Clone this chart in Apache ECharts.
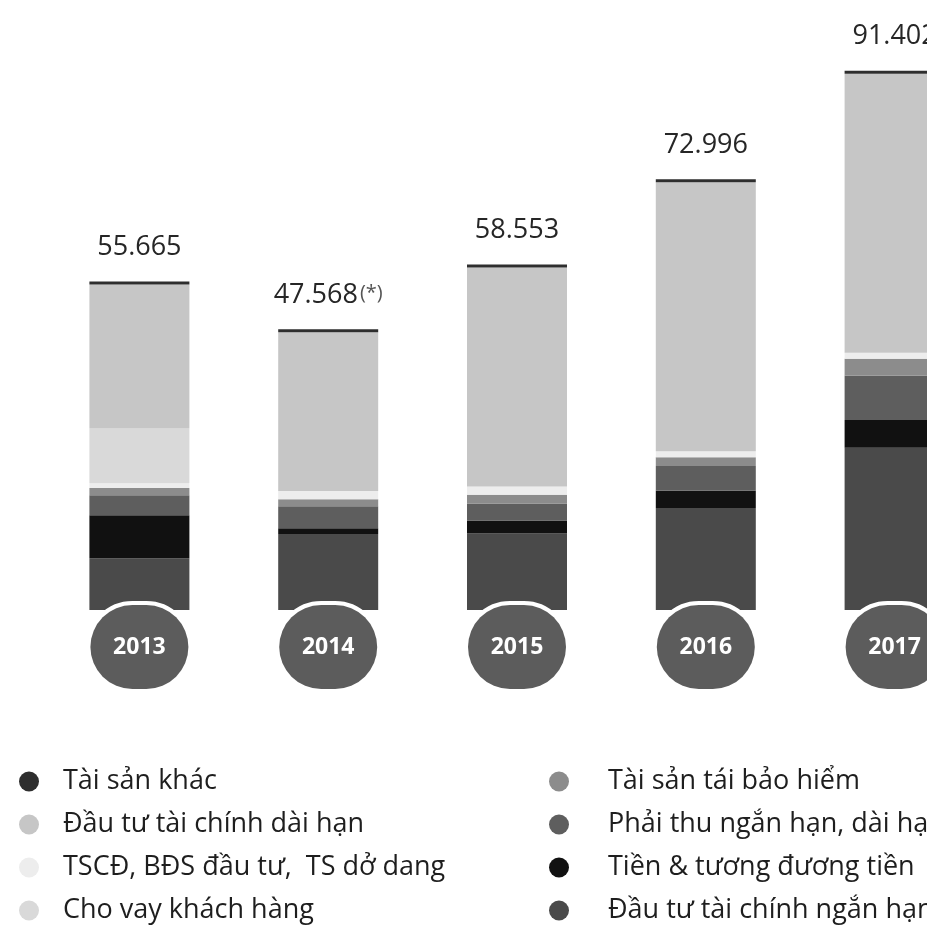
<!DOCTYPE html>
<html>
<head>
<meta charset="utf-8">
<script src="https://cdn.jsdelivr.net/npm/echarts@6/dist/echarts.min.js"></script>
<style>
  html, body { margin: 0; padding: 0; background: #fff; overflow: hidden; }
  #chart { width: 1000px; height: 936px; }
</style>
</head>
<body>
<div id="chart"></div>
<script>
// Tổng tài sản (nghìn tỷ đồng)
const years = ['2013', '2014', '2015', '2016', '2017']
const totals = ['55.665', '47.568', '58.553', '72.996', '91.402']
const totalNotes = ['', '(*)', '', '', '']

// segments, bottom -> top
const dauTuNganHan = [8.765, 12.868, 12.953, 17.296, 27.502]
const tien = [7.3, 1.0, 2.2, 2.9, 4.7]
const phaiThu = [3.4, 3.7, 2.9, 4.2, 7.5]
const taiBaoHiem = [1.2, 1.2, 1.5, 1.5, 2.9]
const tscd = [0.8, 1.4, 1.4, 1.0, 1.0]
const choVay = [9.3, 0, 0, 0, 0]
const dauTuDaiHan = [24.4, 26.9, 37.1, 45.6, 47.3]
const taiSanKhac = [0.5, 0.5, 0.5, 0.5, 0.5]

const FONT = 'Open Sans'

// chart is a bit wider than the window, the 2017 column is cut at the right edge like the scan
const chart = echarts.init(document.getElementById('chart'))

const bar = (name, data, color, extra) => Object.assign({
  name,
  type: 'bar',
  stack: 'total',
  data,
  barWidth: 100,
  itemStyle: { color },
  emphasis: { disabled: true }
}, extra || {})

const legendText = { fontFamily: FONT, fontSize: 27, color: '#1e1e1e', lineHeight: 20 }

const option = {
  animation: false,
  grid: { left: 45, width: 944, top: 20, height: 590 },
  xAxis: {
    type: 'category',
    data: years,
    z: 10,
    axisLine: { show: false },
    axisTick: { show: false },
    axisLabel: {
      interval: 0,
      margin: -5,
      color: '#fff',
      fontFamily: FONT,
      fontWeight: 'bold',
      fontSize: 23,
      backgroundColor: '#5c5c5c',
      borderColor: '#fff',
      borderWidth: 4,
      borderRadius: 42,
      width: 98,
      height: 84,
      lineHeight: 84,
      align: 'center'
    }
  },
  yAxis: {
    type: 'value',
    min: 0,
    max: 100,
    show: false,
    splitLine: { show: false }
  },
  legend: [
    {
      left: 14, top: 763, height: 170, orient: 'vertical',
      icon: 'circle', itemWidth: 20, itemHeight: 20, itemGap: 16,
      textStyle: Object.assign({ padding: [0, 0, 0, 19] }, legendText),
      data: ['Tài sản khác', 'Đầu tư tài chính dài hạn', 'TSCĐ, BĐS đầu tư,  TS dở dang', 'Cho vay khách hàng']
    },
    {
      left: 544, top: 763, height: 170, orient: 'vertical',
      icon: 'circle', itemWidth: 20, itemHeight: 20, itemGap: 16,
      textStyle: Object.assign({ padding: [0, 0, 0, 34] }, legendText),
      data: ['Tài sản tái bảo hiểm', 'Phải thu ngắn hạn, dài hạn', 'Tiền & tương đương tiền', 'Đầu tư tài chính ngắn hạn']
    }
  ],
  series: [
    bar('Đầu tư tài chính ngắn hạn', dauTuNganHan, '#4a4a4a'),
    bar('Tiền & tương đương tiền', tien, '#111111'),
    bar('Phải thu ngắn hạn, dài hạn', phaiThu, '#5e5e5e'),
    bar('Tài sản tái bảo hiểm', taiBaoHiem, '#8c8c8c'),
    bar('TSCĐ, BĐS đầu tư,  TS dở dang', tscd, '#ededed'),
    bar('Cho vay khách hàng', choVay, '#d9d9d9'),
    bar('Đầu tư tài chính dài hạn', dauTuDaiHan, '#c6c6c6'),
    bar('Tài sản khác', taiSanKhac, '#2e2e2e', {
      label: {
        show: true,
        position: 'top',
        distance: 18,
        formatter: p => '{v|' + totals[p.dataIndex] + '}' + (totalNotes[p.dataIndex] ? '{n|' + totalNotes[p.dataIndex] + '}' : ''),
        rich: {
          v: { fontFamily: FONT, fontSize: 27, color: '#262626', lineHeight: 32 },
          n: { fontFamily: FONT, fontSize: 20, color: '#555', lineHeight: 32, padding: [0, 0, 4, 2] }
        }
      }
    })
  ]
}

chart.setOption(option)
</script>
</body>
</html>
